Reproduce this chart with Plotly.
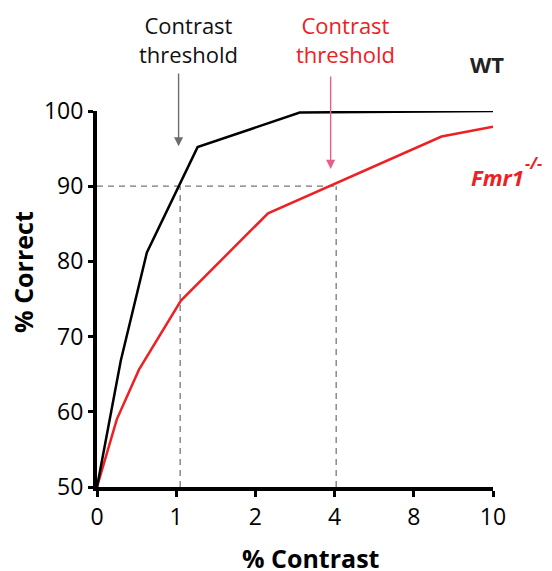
import plotly.graph_objects as go

# Tick labels of the (ordinal) contrast axis
contrast_labels = ["0", "1", "2", "4", "8", "10"]
contrast_pos = [0, 1, 2, 3, 4, 5]

# WT curve (x in tick-index units, y = % correct)
wt_x = [0, 0.30, 0.63, 1.27, 2.56, 5.0]
wt_y = [50, 66.8, 81.2, 95.2, 99.8, 100]

# Fmr1-/- curve
ko_x = [0, 0.25, 0.53, 1.06, 2.16, 4.35, 5.0]
ko_y = [50, 59.0, 65.6, 74.8, 86.4, 96.6, 97.9]

# Threshold criterion and crossings
criterion = 90
wt_threshold = 1.05
ko_threshold = 3.02

FONT = "Open Sans"
RED = "#ee2024"

fig = go.Figure()

dash = dict(color="#777777", width=1.3, dash="6px,5px")
fig.add_trace(go.Scatter(x=[0, ko_threshold], y=[criterion, criterion], mode="lines",
                         line=dash, hoverinfo="skip", showlegend=False, cliponaxis=False))
fig.add_trace(go.Scatter(x=[wt_threshold, wt_threshold], y=[50, criterion], mode="lines",
                         line=dash, hoverinfo="skip", showlegend=False, cliponaxis=False))
fig.add_trace(go.Scatter(x=[ko_threshold, ko_threshold], y=[50, criterion], mode="lines",
                         line=dash, hoverinfo="skip", showlegend=False, cliponaxis=False))

fig.add_trace(go.Scatter(x=ko_x, y=ko_y, mode="lines", line=dict(color=RED, width=2.5),
                         showlegend=False, cliponaxis=False))
fig.add_trace(go.Scatter(x=wt_x, y=wt_y, mode="lines", line=dict(color="black", width=2.5),
                         showlegend=False, cliponaxis=False))

ann = []
# arrows
ann.append(dict(x=1.03, y=95.3, xref="x", yref="y", ax=1.03, ay=105.2, axref="x", ayref="y",
                showarrow=True, arrowhead=2, arrowsize=1.3, arrowwidth=1.4, arrowcolor="#6d6d6d", text=""))
ann.append(dict(x=2.95, y=92.3, xref="x", yref="y", ax=2.95, ay=104.8, axref="x", ayref="y",
                showarrow=True, arrowhead=2, arrowsize=1.3, arrowwidth=1.4, arrowcolor="#e8608a", text=""))
# labels (paper coords)
ann.append(dict(x=0.230, y=1.191, xref="paper", yref="paper", xanchor="center", yanchor="middle",
                text="Contrast<br>threshold", showarrow=False,
                font=dict(family=FONT, size=22, color="#111111"), align="center"))
ann.append(dict(x=0.628, y=1.191, xref="paper", yref="paper", xanchor="center", yanchor="middle",
                text="Contrast<br>threshold", showarrow=False,
                font=dict(family=FONT, size=22, color=RED), align="center"))
ann.append(dict(x=0.984, y=1.125, xref="paper", yref="paper", xanchor="center", yanchor="middle",
                text="<b>WT</b>", showarrow=False,
                font=dict(family=FONT, size=22, color="#222222")))
ann.append(dict(x=0.940, y=0.824, xref="paper", yref="paper", xanchor="left", yanchor="middle",
                text="<b><i>Fmr1</i></b>", showarrow=False,
                font=dict(family=FONT, size=22, color=RED)))
ann.append(dict(x=1.076, y=0.862, xref="paper", yref="paper", xanchor="left", yanchor="middle",
                text="<b><i>-/-</i></b>", showarrow=False,
                font=dict(family=FONT, size=16, color=RED)))
# axis titles
ann.append(dict(x=-0.187, y=0.572, xref="paper", yref="paper", xanchor="center", yanchor="middle",
                text="<b>% Correct</b>", textangle=-90,
                showarrow=False, font=dict(family=FONT, size=25, color="black")))
ann.append(dict(x=0.540, y=-0.190, xref="paper", yref="paper", xanchor="center", yanchor="middle",
                text="<b>% Contrast</b>",
                showarrow=False, font=dict(family=FONT, size=25, color="black")))

fig.update_layout(
    width=544, height=563,
    margin=dict(l=89, r=59, t=103, b=84),
    paper_bgcolor="white", plot_bgcolor="white",
    annotations=ann,
    xaxis=dict(range=[0, 5], tickvals=contrast_pos, ticktext=contrast_labels,
               showgrid=False, zeroline=False, showline=True, linecolor="black", linewidth=4,
               ticks="outside", ticklen=6, tickwidth=3, tickcolor="black",
               tickfont=dict(family=FONT, size=23, color="black")),
    yaxis=dict(range=[50, 100], tickvals=[50, 60, 70, 80, 90, 100],
               showgrid=False, zeroline=False, showline=True, linecolor="black", linewidth=4,
               ticks="outside", ticklen=5, tickwidth=3, tickcolor="black",
               tickfont=dict(family=FONT, size=23, color="black")),
)

fig.write_html("out.html")
